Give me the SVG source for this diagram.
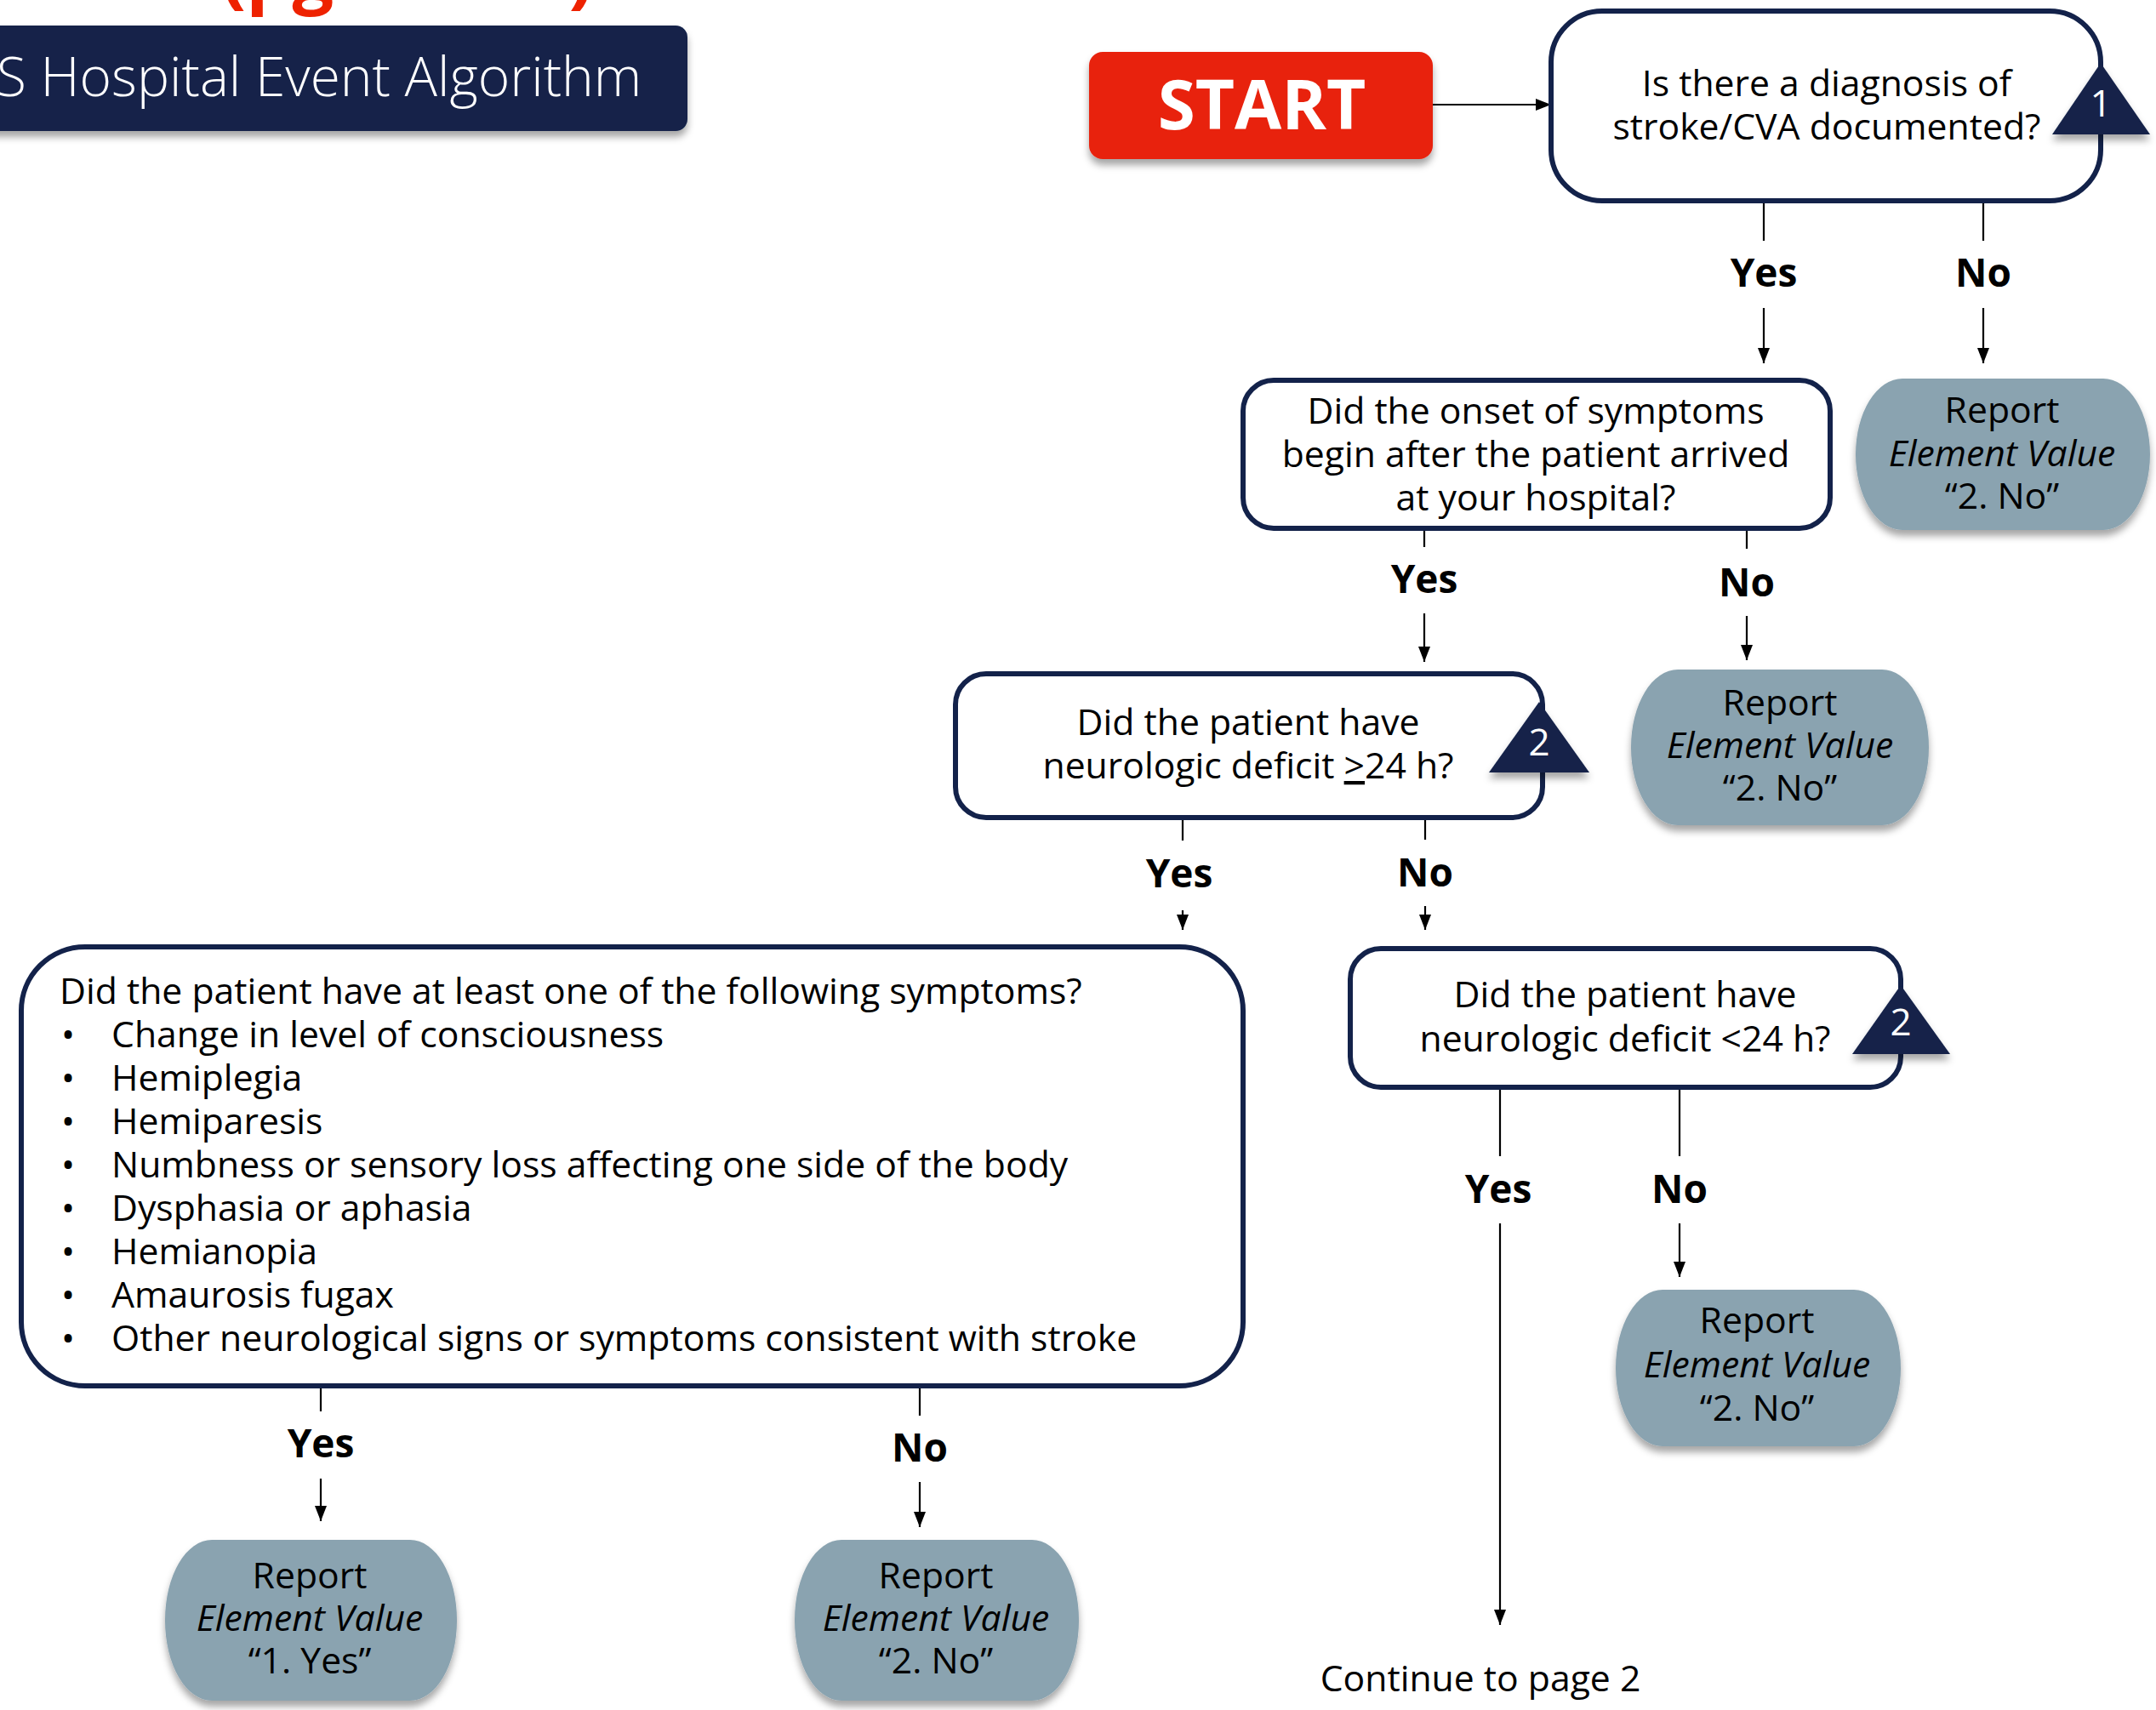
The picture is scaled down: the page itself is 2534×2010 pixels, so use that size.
<svg xmlns="http://www.w3.org/2000/svg" width="2534" height="2010" viewBox="0 0 2534 2010">
  <defs>
    <filter id="sh" x="-20%" y="-20%" width="140%" height="150%">
      <feDropShadow dx="0" dy="7" stdDeviation="4" flood-color="#000" flood-opacity="0.35"/>
    </filter>
    <marker id="ah" markerUnits="userSpaceOnUse" markerWidth="18" markerHeight="14" viewBox="0 0 18 14" refX="18" refY="7" orient="auto">
      <path d="M0,0 L18,7 L0,14 z" fill="#000"/>
    </marker>
  </defs>
  <style>
    text { font-family: "Open Sans", "Liberation Sans", sans-serif; }
    .q { fill: #fff; stroke: #13224A; stroke-width: 6; }
    .rep { fill: #8AA3B0; filter: url(#sh); }
    .t { font-size: 42.7px; fill: #000; text-anchor: middle; }
    .l { font-size: 42.7px; fill: #000; }
    .em { font-style: italic; }
    .lbl { font-size: 46px; font-weight: 700; fill: #000; text-anchor: middle; }
    .badge { fill: #13224A; filter: url(#sh); }
    .bnum { font-size: 44px; fill: #fff; text-anchor: middle; }
    .conn { stroke: #000; stroke-width: 2.2; fill: none; }
    .arr { marker-end: url(#ah); }
  </style>

  <rect width="2534" height="2010" fill="#fff"/>

  <!-- page heading -->
  <g id="heading">
    <text x="260" y="-1" font-size="86" font-weight="700" fill="#EE2200">(pg. 1 of 2)</text>
    <rect x="-30" y="30" width="838" height="124" rx="14" fill="#12224A" filter="url(#sh)"/>
    <text x="-4" y="113" font-size="64" font-weight="300" fill="#fff">S Hospital Event Algorithm</text>
  </g>

  <!-- connectors -->
  <g id="connectors">
    <line class="conn arr" x1="1684" y1="123" x2="1823" y2="123" stroke-width="2.8"/>
    <!-- Q1 -->
    <line class="conn" x1="2073" y1="237" x2="2073" y2="283"/>
    <line class="conn arr" x1="2073" y1="362" x2="2073" y2="427"/>
    <line class="conn" x1="2331" y1="237" x2="2331" y2="283"/>
    <line class="conn arr" x1="2331" y1="362" x2="2331" y2="427"/>
    <!-- Q2 -->
    <line class="conn" x1="1674" y1="622" x2="1674" y2="643"/>
    <line class="conn arr" x1="1674" y1="721" x2="1674" y2="778"/>
    <line class="conn" x1="2053" y1="622" x2="2053" y2="645"/>
    <line class="conn arr" x1="2053" y1="724" x2="2053" y2="776"/>
    <!-- Q3 -->
    <line class="conn" x1="1390" y1="962" x2="1390" y2="988"/>
    <line class="conn arr" x1="1390" y1="1070" x2="1390" y2="1093"/>
    <line class="conn" x1="1675" y1="962" x2="1675" y2="987"/>
    <line class="conn arr" x1="1675" y1="1065" x2="1675" y2="1093"/>
    <!-- Q4 -->
    <line class="conn" x1="377" y1="1630" x2="377" y2="1659"/>
    <line class="conn arr" x1="377" y1="1738" x2="377" y2="1788"/>
    <line class="conn" x1="1081" y1="1630" x2="1081" y2="1664"/>
    <line class="conn arr" x1="1081" y1="1742" x2="1081" y2="1795"/>
    <!-- Q5 -->
    <line class="conn" x1="1763" y1="1278" x2="1763" y2="1359"/>
    <line class="conn arr" x1="1763" y1="1438" x2="1763" y2="1910"/>
    <line class="conn" x1="1974" y1="1278" x2="1974" y2="1359"/>
    <line class="conn arr" x1="1974" y1="1438" x2="1974" y2="1501"/>

    <text class="lbl" x="2073" y="337">Yes</text>
    <text class="lbl" x="2331" y="337">No</text>
    <text class="lbl" x="1674" y="697">Yes</text>
    <text class="lbl" x="2053" y="701">No</text>
    <text class="lbl" x="1386" y="1043">Yes</text>
    <text class="lbl" x="1675" y="1042">No</text>
    <text class="lbl" x="377" y="1713">Yes</text>
    <text class="lbl" x="1081" y="1718">No</text>
    <text class="lbl" x="1761" y="1414">Yes</text>
    <text class="lbl" x="1974" y="1414">No</text>
  </g>

  <!-- start -->
  <g id="start">
    <rect x="1280" y="61" width="404" height="126" rx="16" fill="#E8230C" filter="url(#sh)"/>
    <text x="1483" y="152" font-size="80" font-weight="700" fill="#fff" text-anchor="middle">START</text>
  </g>

  <!-- Q1: stroke diagnosis -->
  <g id="q-diagnosis">
    <rect class="q" x="1823" y="13" width="646" height="223" rx="60"/>
    <text class="t" x="2147" y="113">Is there a diagnosis of</text>
    <text class="t" x="2147" y="164">stroke/CVA documented?</text>
    <polygon class="badge" points="2469,74 2527,158 2412,158"/>
    <text class="bnum" x="2469" y="137">1</text>
  </g>

  <!-- Q2: onset after arrival -->
  <g id="q-onset">
    <rect class="q" x="1461" y="447" width="690" height="174" rx="36"/>
    <text class="t" x="1805" y="498">Did the onset of symptoms</text>
    <text class="t" x="1805" y="549">begin after the patient arrived</text>
    <text class="t" x="1805" y="600">at your hospital?</text>
  </g>

  <!-- Q3: deficit of 24 h or more -->
  <g id="q-deficit-long">
    <rect class="q" x="1123" y="792" width="690" height="169" rx="36"/>
    <text class="t" x="1467" y="864">Did the patient have</text>
    <text class="t" x="1467" y="915">neurologic deficit <tspan text-decoration="underline">&gt;</tspan>24 h?</text>
    <polygon class="badge" points="1809,825 1868,908 1750,908"/>
    <text class="bnum" x="1809" y="888">2</text>
  </g>

  <!-- Q4: symptom list -->
  <g id="q-symptoms">
    <rect class="q" x="25" y="1113" width="1436" height="516" rx="75"/>
    <text class="l" x="70" y="1180">Did the patient have at least one of the following symptoms?</text>
    <g>
      <text class="l" x="72" y="1231">•</text>
      <text class="l" x="72" y="1282">•</text>
      <text class="l" x="72" y="1333">•</text>
      <text class="l" x="72" y="1384">•</text>
      <text class="l" x="72" y="1435">•</text>
      <text class="l" x="72" y="1486">•</text>
      <text class="l" x="72" y="1537">•</text>
      <text class="l" x="72" y="1588">•</text>
    </g>
    <text class="l" x="131" y="1231">Change in level of consciousness</text>
    <text class="l" x="131" y="1282">Hemiplegia</text>
    <text class="l" x="131" y="1333">Hemiparesis</text>
    <text class="l" x="131" y="1384">Numbness or sensory loss affecting one side of the body</text>
    <text class="l" x="131" y="1435">Dysphasia or aphasia</text>
    <text class="l" x="131" y="1486">Hemianopia</text>
    <text class="l" x="131" y="1537">Amaurosis fugax</text>
    <text class="l" x="131" y="1588">Other neurological signs or symptoms consistent with stroke</text>
  </g>

  <!-- Q5: deficit under 24 h -->
  <g id="q-deficit-short">
    <rect class="q" x="1587" y="1115" width="647" height="163" rx="36"/>
    <text class="t" x="1910" y="1184">Did the patient have</text>
    <text class="t" x="1910" y="1236">neurologic deficit &lt;24 h?</text>
    <polygon class="badge" points="2234,1158 2292,1239 2177,1239"/>
    <text class="bnum" x="2234" y="1217">2</text>
  </g>

  <!-- report results -->
  <g id="r-no-diagnosis">
    <rect class="rep" x="2181" y="445" width="346" height="178" rx="55" ry="89"/>
    <text class="t" x="2353" y="497">Report</text>
    <text class="t em" x="2353" y="548">Element Value</text>
    <text class="t" x="2353" y="598">“2. No”</text>
  </g>
  <g id="r-no-onset">
    <rect class="rep" x="1917" y="787" width="350" height="183" rx="55" ry="91"/>
    <text class="t" x="2092" y="841">Report</text>
    <text class="t em" x="2092" y="891">Element Value</text>
    <text class="t" x="2092" y="941">“2. No”</text>
  </g>
  <g id="r-no-short">
    <rect class="rep" x="1899" y="1516" width="335" height="184" rx="55" ry="92"/>
    <text class="t" x="2065" y="1567">Report</text>
    <text class="t em" x="2065" y="1619">Element Value</text>
    <text class="t" x="2065" y="1670">“2. No”</text>
  </g>
  <g id="r-yes-symptoms">
    <rect class="rep" x="194" y="1810" width="343" height="189" rx="55" ry="94"/>
    <text class="t" x="364" y="1867">Report</text>
    <text class="t em" x="364" y="1917">Element Value</text>
    <text class="t" x="364" y="1967">“1. Yes”</text>
  </g>
  <g id="r-no-symptoms">
    <rect class="rep" x="934" y="1810" width="334" height="189" rx="55" ry="94"/>
    <text class="t" x="1100" y="1867">Report</text>
    <text class="t em" x="1100" y="1917">Element Value</text>
    <text class="t" x="1100" y="1967">“2. No”</text>
  </g>

  <!-- continuation -->
  <g id="continue">
    <text class="t" x="1740" y="1988">Continue to page 2</text>
  </g>
</svg>
